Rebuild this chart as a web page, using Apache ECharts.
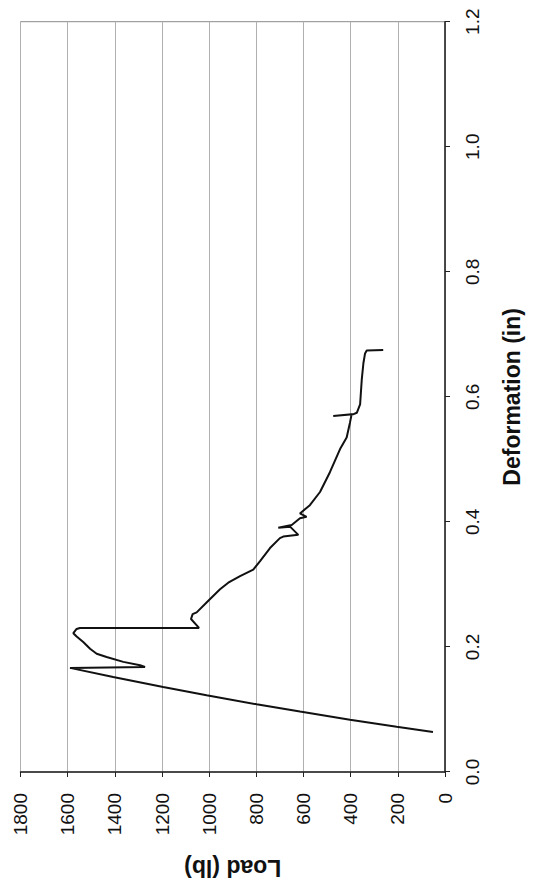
<!DOCTYPE html>
<html>
<head>
<meta charset="utf-8">
<script src="https://cdn.jsdelivr.net/npm/echarts@6/dist/echarts.min.js"></script>
<style>
  html, body { margin: 0; padding: 0; background: #fff; overflow: hidden; }
  #page { position: relative; width: 542px; height: 887px; overflow: hidden; background: #fff; }
  /* The chart is laid out landscape and turned a quarter turn counter-clockwise */
  #chart { position: absolute; left: 0; top: 0; width: 887px; height: 542px;
           transform-origin: 0 0; transform: translate(0, 887px) rotate(-90deg); }
</style>
</head>
<body>
<div id="page"><div id="chart"></div></div>
<script>
// Load–deformation record of the specimen (in, lb)
const deformation = [
  0.0641, 0.0724, 0.0836, 0.0966, 0.1083, 0.1227, 0.1359, 0.1518, 0.1665,
  0.168, 0.1707, 0.1761, 0.184, 0.1892, 0.1971, 0.2078, 0.2166, 0.222, 0.2288,
  0.2304, 0.2304, 0.2447, 0.2526, 0.2553, 0.2711, 0.2922, 0.3028, 0.3132, 0.3238,
  0.337, 0.3582, 0.374, 0.3766, 0.3793, 0.3924, 0.3908, 0.3951, 0.4057, 0.4082,
  0.4136, 0.4268, 0.4478, 0.4795, 0.5165, 0.5349, 0.5587, 0.572, 0.5692, 0.572,
  0.5745, 0.5878, 0.6274, 0.6537, 0.6695, 0.674, 0.675
];
const load = [
  51, 205, 403, 615, 799, 1011, 1195, 1407, 1590,
  1272, 1293, 1364, 1435, 1477, 1505, 1534, 1562, 1576, 1562,
  1548, 1043, 1077, 1070, 1053, 1011, 954, 919, 869, 813,
  785, 742, 700, 686, 622, 657, 707, 650, 615, 587,
  615, 573, 530, 488, 445, 417, 403, 396, 474, 390,
  374, 360, 353, 346, 339, 332, 262
];

// Axis ranges and tick steps
const deformationTicks = [0.0, 0.2, 0.4, 0.6, 0.8, 1.0, 1.2];
const loadTicks = [0, 200, 400, 600, 800, 1000, 1200, 1400, 1600, 1800];

const points = deformation.map((d, i) => [d, load[i]]);
const FONT = '"Liberation Sans", Arial, Helvetica, sans-serif';

const chart = echarts.init(document.getElementById('chart'), null, { renderer: 'svg' });
chart.setOption({
  animation: false,
  backgroundColor: '#ffffff',
  grid: {
    left: 107.5, right: 21.7, top: 20.5, bottom: 97,
    show: true, borderColor: '#8a8a8a', borderWidth: 1, backgroundColor: 'transparent'
  },
  xAxis: {
    type: 'value',
    min: deformationTicks[0],
    max: deformationTicks[deformationTicks.length - 1],
    interval: deformationTicks[1] - deformationTicks[0],
    name: 'Deformation (in)',
    nameLocation: 'middle',
    nameGap: 55,
    nameTextStyle: { fontFamily: FONT, fontWeight: 'bold', fontSize: 23, color: '#111' },
    axisLine: { show: true, onZero: false, lineStyle: { color: '#222', width: 1.5 } },
    axisTick: { show: true, inside: false, length: 5, lineStyle: { color: '#222', width: 1 } },
    axisLabel: { fontFamily: FONT, fontSize: 19, color: '#111', margin: 18,
                 formatter: v => v.toFixed(1) },
    splitLine: { show: false }
  },
  yAxis: {
    type: 'value',
    min: loadTicks[0],
    max: loadTicks[loadTicks.length - 1],
    interval: loadTicks[1] - loadTicks[0],
    name: 'Load (lb)',
    nameLocation: 'middle',
    nameGap: 84,
    nameTextStyle: { fontFamily: FONT, fontWeight: 'bold', fontSize: 23, color: '#111' },
    axisLine: { show: true, onZero: false, lineStyle: { color: '#222', width: 1.5 } },
    axisTick: { show: true, inside: false, length: 5, lineStyle: { color: '#222', width: 1 } },
    axisLabel: { fontFamily: FONT, fontSize: 19, color: '#111', margin: 21,
                 formatter: v => String(v) },
    splitLine: { show: true, lineStyle: { color: '#b0b0b0', width: 1 } }
  },
  series: [{
    type: 'line',
    data: points,
    showSymbol: false,
    smooth: false,
    lineStyle: { color: '#111', width: 2 },
    z: 5
  }]
});
</script>
</body>
</html>
